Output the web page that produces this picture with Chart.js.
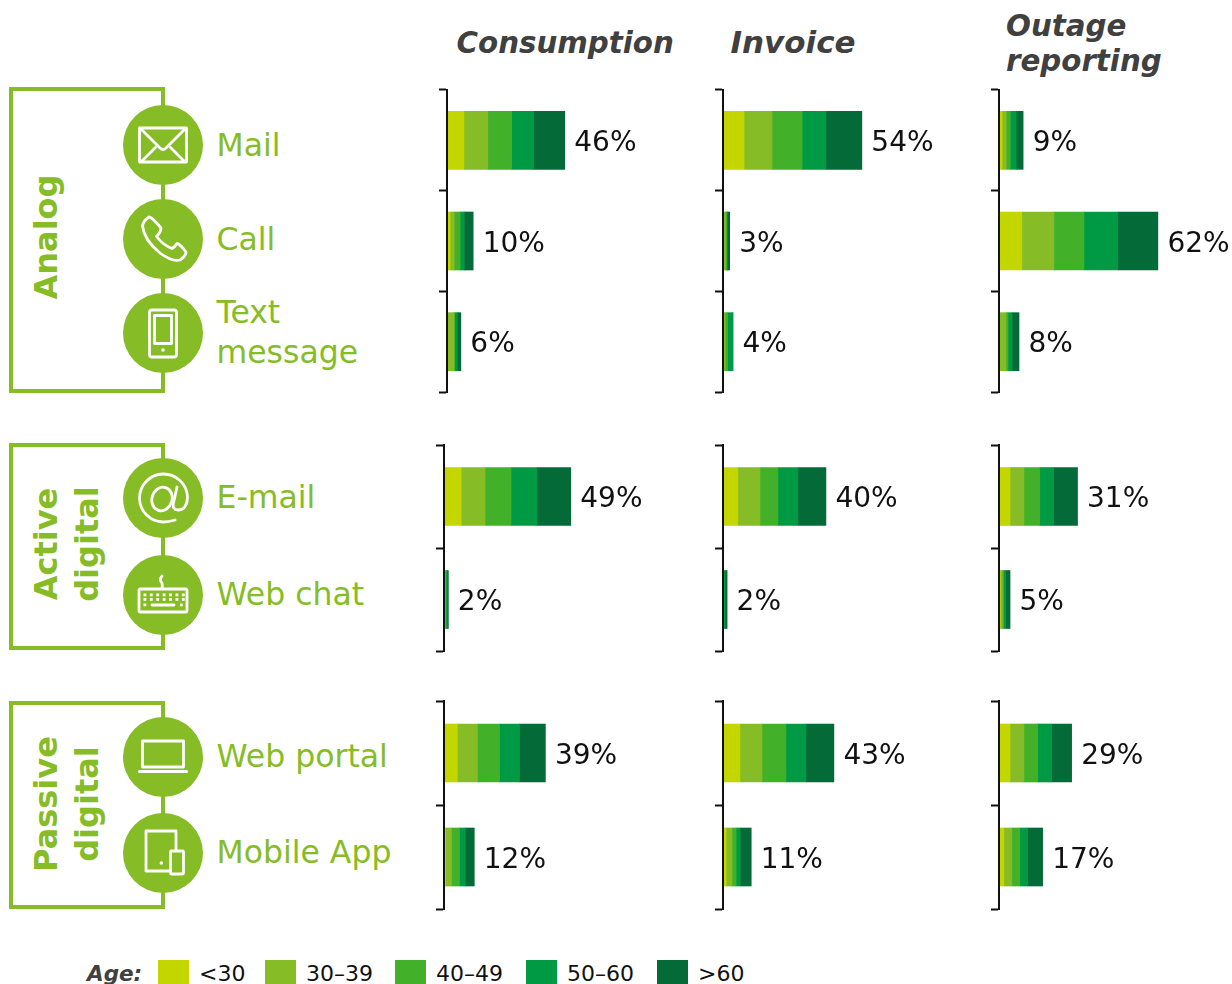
<!DOCTYPE html>
<html>
<head>
<meta charset="utf-8">
<script src="https://cdn.jsdelivr.net/npm/chart.js@4"></script>
<style>
html,body{margin:0;padding:0;background:#fff;overflow:hidden}
#page{position:relative;width:1232px;height:984px;overflow:hidden;font-family:"DejaVu Sans",sans-serif}
#page canvas{position:absolute}
#deco{position:absolute;left:0;top:0}
.ch{font-size:31.500px;fill:#86BC25}
.gr{font-size:32px;font-weight:bold;fill:#86BC25}
.hd{font-size:29.300px;font-weight:bold;font-style:italic;fill:#404040}
.ic{fill:none;stroke:#fff;stroke-width:2.800;stroke-linejoin:round;stroke-linecap:round}
.lg{font-size:22px;fill:#111}
</style>
</head>
<body>
<div id="page">
<svg id="deco" width="1232" height="984" xmlns="http://www.w3.org/2000/svg">
  <g fill="none" stroke="#86BC25" stroke-width="4">
    <rect x="11" y="89" width="152" height="302"/>
    <rect x="11" y="445" width="152" height="203"/>
    <rect x="11" y="703" width="152" height="204"/>
  </g>
  <g fill="#86BC25">
    <circle cx="163" cy="145" r="40"/><circle cx="163" cy="239" r="40"/><circle cx="163" cy="333" r="40"/>
    <circle cx="163" cy="498" r="40"/><circle cx="163" cy="595" r="40"/>
    <circle cx="163" cy="757" r="40"/><circle cx="163" cy="853" r="40"/>
  </g>
  <!-- icons -->
  <g class="ic">
    <rect x="139.500" y="128" width="47" height="34" />
    <path d="M141 129L160 148Q163 151 166 148L185 129M142 161L155.500 147.500M184 161L170.500 147.500"/>
    <path d="M142.500 226Q143 221 149 217Q152 217 161 228Q161 232 156.500 236.500Q163 245 172 248.500Q175 247 177 243.500Q180 244 186 252Q186 256 180 260Q172 262 160 253Q144 240 142.500 226Z"/>
    <rect x="149.500" y="310" width="27" height="47" rx="2.500"/>
    <rect x="154.500" y="315.500" width="17" height="28"/>
    <path d="M175 520Q169 522 163 522A24 24 0 1 1 187.500 497Q187 510 178 510Q172 510 173.500 503L177 487"/>
    <ellipse cx="162" cy="499" rx="10" ry="12" transform="rotate(18 162 499)"/>
    <rect x="139" y="589" width="48" height="23" rx="1.500"/>
    <path d="M162 588Q163 583 160.500 581Q160 578 162 576"/>
    <path d="M152 605H174"/>
    <rect x="142.500" y="741" width="41" height="26"/>
    <path d="M139.500 771.500H186.500" stroke-width="3"/>
    <path d="M169 871H146V831H176V850"/>
    <rect x="170.500" y="851" width="13" height="23" rx="1"/>
  </g>
  <g fill="#fff">
    <circle cx="163" cy="350" r="1.800"/>
    <circle cx="161.300" cy="863" r="1.800"/>
    <g id="keys"></g>
  </g>
  <!-- channel labels -->
  <g class="ch">
    <text x="216.500" y="155.500">Mail</text>
    <text x="216.500" y="249.500">Call</text>
    <text x="216.500" y="322.500">Text</text>
    <text x="216.500" y="363">message</text>
    <text x="216.500" y="507.500">E-mail</text>
    <text x="216.500" y="605">Web chat</text>
    <text x="216.500" y="766.500">Web portal</text>
    <text x="216.500" y="863">Mobile App</text>
  </g>
  <!-- group labels -->
  <g class="gr" text-anchor="middle">
    <text transform="translate(57 237) rotate(-90)">Analog</text>
    <text transform="translate(57 544) rotate(-90)">Active</text>
    <text transform="translate(98 544) rotate(-90)">digital</text>
    <text transform="translate(57 804) rotate(-90)">Passive</text>
    <text transform="translate(98 804) rotate(-90)">digital</text>
  </g>
  <!-- headers -->
  <g class="hd">
    <text x="456.500" y="52.500">Consumption</text>
    <text x="730.500" y="52.500" textLength="125" lengthAdjust="spacingAndGlyphs">Invoice</text>
    <text x="1006" y="36">Outage</text>
    <text x="1006" y="71">reporting</text>
  </g>
  <text x="87" y="981" font-size="21.500" font-weight="bold" font-style="italic" fill="#404040">Age:</text>
  <g id="legend"></g>
</svg>
</div>
<script>
// ---- categories ----
const channels = ['Mail','Call','Text message','E-mail','Web chat','Web portal','Mobile App'];
const ages = ['<30','30–39','40–49','50–60','>60'];
const ageColors = ['#C4D600','#86BC25','#43B02A','#009A44','#046A38'];
const groupChannels = [[0,1,2],[3,4],[5,6]];

// ---- Consumption, % by age band ----
const consumptionUnder30 = [6.6,1.2,0,6.7,0.1,5.2,0.6];
const consumption30s     = [9.3,1.6,2.7,9.3,0.3,7.8,2.3];
const consumption40s     = [9.3,2.3,0.3,10.1,0.4,8.6,3.1];
const consumption50s     = [8.6,1.6,1.0,10.1,0.5,7.8,2.3];
const consumption60plus  = [12.1,3.5,1.4,13.2,0.4,10.1,3.5];
const consumptionLabels  = ['46%','10%','6%','49%','2%','39%','12%'];

// ---- Invoice ----
const invoiceUnder30 = [8.2,0.1,0,5.8,0,6.6,1.2];
const invoice30s     = [10.9,0.8,0.8,8.6,0.1,8.6,2.3];
const invoice40s     = [11.7,0.5,1.0,7.0,0.2,9.3,1.6];
const invoice50s     = [9.3,0.3,2.0,7.8,0.5,7.8,1.6];
const invoice60plus  = [14.0,0.9,0.1,10.9,0.8,10.9,4.3];
const invoiceLabels  = ['54%','3%','4%','40%','2%','43%','11%'];

// ---- Outage reporting ----
const outageUnder30 = [1.2,8.9,0,4.3,0.5,4.3,1.9];
const outage30s     = [1.6,12.5,2.7,5.4,0.8,5.4,3.1];
const outage40s     = [1.6,11.7,0.8,6.2,0.5,5.4,3.1];
const outage50s     = [2.3,13.2,1.6,5.4,0.8,5.4,3.1];
const outage60plus  = [2.7,15.6,2.7,9.3,1.7,7.8,5.8];
const outageLabels  = ['9%','62%','8%','31%','5%','29%','17%'];

const valueAxisMax = 90;

const services = [
  {series:[consumptionUnder30,consumption30s,consumption40s,consumption50s,consumption60plus],labels:consumptionLabels,axisX:[447,444,444]},
  {series:[invoiceUnder30,invoice30s,invoice40s,invoice50s,invoice60plus],labels:invoiceLabels,axisX:[723,723,723]},
  {series:[outageUnder30,outage30s,outage40s,outage50s,outage60plus],labels:outageLabels,axisX:[999,999,999]}
];
// vertical extent of each group's bracket axis
const groupTop = [90,445,701];
const groupBottom = [392,651,909];
const TICK = 8, PLOT_W = 231, PAD = 2;

const valueLabels = {
  id:'valueLabels',
  afterDatasetsDraw(chart,args,opts){
    const {ctx,scales:{x,y}} = chart;
    ctx.save();
    ctx.font = '28px "DejaVu Sans"';
    ctx.fillStyle = '#111';
    ctx.textBaseline = 'alphabetic';
    opts.texts.forEach((t,i)=>{
      let total = 0;
      chart.data.datasets.forEach(d=>{ total += d.data[i]; });
      ctx.fillText(t, x.getPixelForValue(total)+9.5, y.getPixelForValue(i)+10.5);
    });
    ctx.restore();
  }
};

const page = document.getElementById('page');
services.forEach(svc=>{
  groupChannels.forEach((idx,g)=>{
    const canvas = document.createElement('canvas');
    const h = groupBottom[g]-groupTop[g];
    const cw = TICK+PLOT_W+1, chh = h+PAD*2;
    canvas.width = cw; canvas.height = chh;
    canvas.style.left = (svc.axisX[g]-TICK)+'px';
    canvas.style.top = (groupTop[g]-PAD)+'px';
    canvas.style.width = cw+'px'; canvas.style.height = chh+'px';
    page.appendChild(canvas);
    new Chart(canvas,{
      type:'bar',
      data:{
        labels:idx.map(i=>channels[i]),
        datasets:ages.map((a,k)=>({
          label:a,
          data:idx.map(i=>svc.series[k][i]),
          backgroundColor:ageColors[k],
          borderWidth:0,
          barThickness:58
        }))
      },
      plugins:[valueLabels],
      options:{
        indexAxis:'y',
        responsive:false,
        animation:false,
        devicePixelRatio:1,
        layout:{padding:{top:PAD,bottom:PAD,left:0,right:1}},
        plugins:{
          legend:{display:false},
          tooltip:{enabled:false},
          valueLabels:{texts:idx.map(i=>svc.labels[i])}
        },
        scales:{
          x:{stacked:true,display:false,min:0,max:valueAxisMax},
          y:{
            stacked:true,
            afterFit(s){ s.width = TICK; },
            ticks:{display:false},
            grid:{display:true,offset:true,drawOnChartArea:false,drawTicks:true,tickLength:TICK,tickWidth:2,tickColor:'#111'},
            border:{display:true,color:'#111',width:2,z:1}
          }
        }
      }
    });
  });
});

// legend
const NS = 'http://www.w3.org/2000/svg';
const legend = document.getElementById('legend');
const swatchX = [158,265,395,526,657];
ages.forEach((a,k)=>{
  const r = document.createElementNS(NS,'rect');
  r.setAttribute('x',swatchX[k]); r.setAttribute('y',960);
  r.setAttribute('width',31); r.setAttribute('height',24);
  r.setAttribute('fill',ageColors[k]);
  legend.appendChild(r);
  const t = document.createElementNS(NS,'text');
  t.setAttribute('x',swatchX[k]+41); t.setAttribute('y',981);
  t.setAttribute('class','lg');
  t.textContent = a;
  legend.appendChild(t);
});
// keyboard key dots (icon only)
const keys = document.getElementById('keys');
const keyDot = (kx,ky)=>{
  const k = document.createElementNS(NS,'rect');
  k.setAttribute('x',kx); k.setAttribute('y',ky);
  k.setAttribute('width',2.8); k.setAttribute('height',2.8);
  keys.appendChild(k);
};
[593.5,598].forEach(ky=>{ for(let c=0;c<7;c++) keyDot(143.5+c*6.4,ky); });
keyDot(143.5,603.5); keyDot(179.9,603.5);
</script>
</body>
</html>
